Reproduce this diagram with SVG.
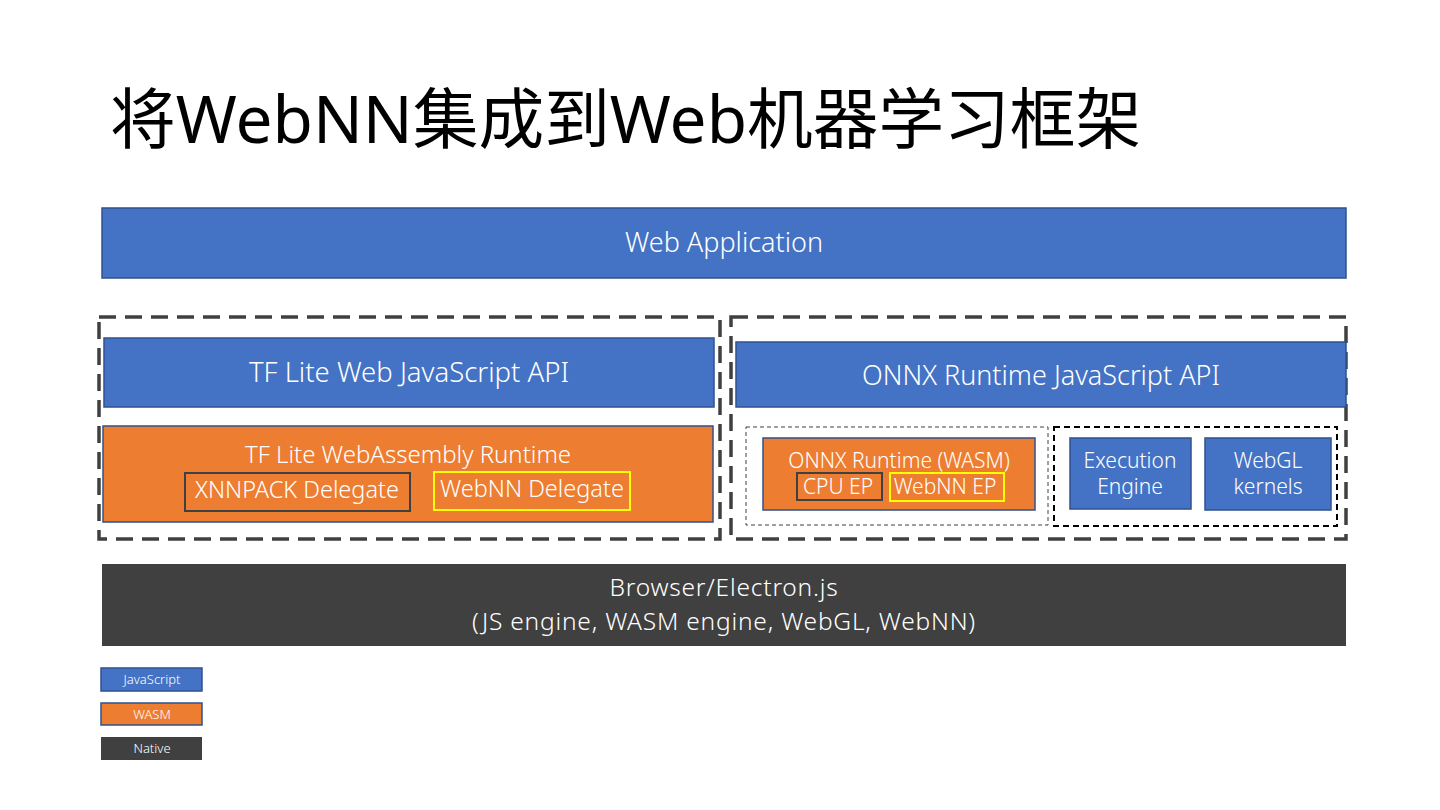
<svg xmlns="http://www.w3.org/2000/svg" width="1440" height="810" viewBox="0 0 1440 810">
<style>
.t{font-family:"Noto Sans","Open Sans","Liberation Sans",sans-serif;font-weight:300;fill:#fff;text-anchor:middle}
.js{fill:#4472C4;stroke:#2F528F;stroke-width:1.5}
.wasm{fill:#ED7D31;stroke:#2F528F;stroke-width:1.5}
.nat{fill:#404040}
.big{fill:none;stroke:#404040;stroke-width:3.5;stroke-dasharray:17 9}
</style>
<rect width="1440" height="810" fill="#fff"/>
<text x="110" y="143" font-family="'Noto Sans','Noto Sans CJK SC',sans-serif" font-size="65.7" fill="#000">将WebNN集成到Web机器学习框架</text>

<g id="web-app"><rect class="js" x="102" y="208" width="1244" height="70"/><text class="t" x="724" y="252" font-size="27">Web Application</text></g>

<g id="tflite-group"><rect class="big" x="99" y="317" width="621" height="222"/></g>
<g id="ort-group"><rect class="big" x="731" y="317" width="615" height="222"/></g>

<g id="tflite-js"><rect class="js" x="104" y="338" width="610" height="69"/><text class="t" x="409" y="382" font-size="27.5">TF Lite Web JavaScript API</text></g>
<g id="tflite-wasm"><rect class="wasm" x="103" y="426" width="610" height="96"/><text class="t" x="408" y="463" font-size="24">TF Lite WebAssembly Runtime</text></g>
<g id="xnnpack"><rect x="185" y="473" width="225" height="38" fill="none" stroke="#404040" stroke-width="2"/><text class="t" x="297" y="498" font-size="23.5">XNNPACK Delegate</text></g>
<g id="webnn-delegate"><rect x="434" y="472" width="196" height="38" fill="none" stroke="#FFFF00" stroke-width="2"/><text class="t" x="532" y="497" font-size="23.5">WebNN Delegate</text></g>

<g id="ort-js"><rect class="js" x="736" y="342" width="610" height="65"/><text class="t" x="1041" y="385" font-size="27">ONNX Runtime JavaScript API</text></g>
<g id="ort-wasm-group"><rect x="746" y="427" width="302" height="98" fill="none" stroke="#404040" stroke-width="1" stroke-dasharray="4 3"/></g>
<g id="ort-webgl-group"><rect x="1054" y="427" width="283" height="99" fill="none" stroke="#000" stroke-width="2" stroke-dasharray="6 4"/></g>
<g id="ort-wasm"><rect class="wasm" x="763" y="438" width="272" height="72"/><text class="t" x="899" y="468" font-size="21">ONNX Runtime (WASM)</text></g>
<g id="cpu-ep"><rect x="797" y="473" width="85" height="27" fill="none" stroke="#404040" stroke-width="2"/><text class="t" x="838" y="494" font-size="21">CPU EP</text></g>
<g id="webnn-ep"><rect x="890" y="473" width="114" height="28" fill="none" stroke="#FFFF00" stroke-width="2"/><text class="t" x="945" y="494" font-size="21">WebNN EP</text></g>
<g id="exec-engine"><rect class="js" x="1070" y="438" width="121" height="71"/><text class="t" x="1130" y="468" font-size="21">Execution</text><text class="t" x="1130" y="494" font-size="21">Engine</text></g>
<g id="webgl-kernels"><rect class="js" x="1205" y="438" width="126" height="72"/><text class="t" x="1268" y="468" font-size="21">WebGL</text><text class="t" x="1268" y="494" font-size="21">kernels</text></g>

<g id="browser"><rect class="nat" x="102" y="564" width="1244" height="82"/><text class="t" x="724" y="596" font-size="24.5" letter-spacing="0.8">Browser/Electron.js</text><text class="t" x="724" y="630" font-size="24.5" letter-spacing="0.8">(JS engine, WASM engine, WebGL, WebNN)</text></g>

<g id="legend-js"><rect class="js" x="101" y="668" width="101" height="23"/><text class="t" x="152" y="684" font-size="13">JavaScript</text></g>
<g id="legend-wasm"><rect class="wasm" x="101" y="703" width="101" height="22"/><text class="t" x="152" y="719" font-size="13">WASM</text></g>
<g id="legend-native"><rect class="nat" x="101" y="737" width="101" height="23"/><text class="t" x="152" y="753" font-size="13">Native</text></g>
<g id="connectors"></g>
</svg>
